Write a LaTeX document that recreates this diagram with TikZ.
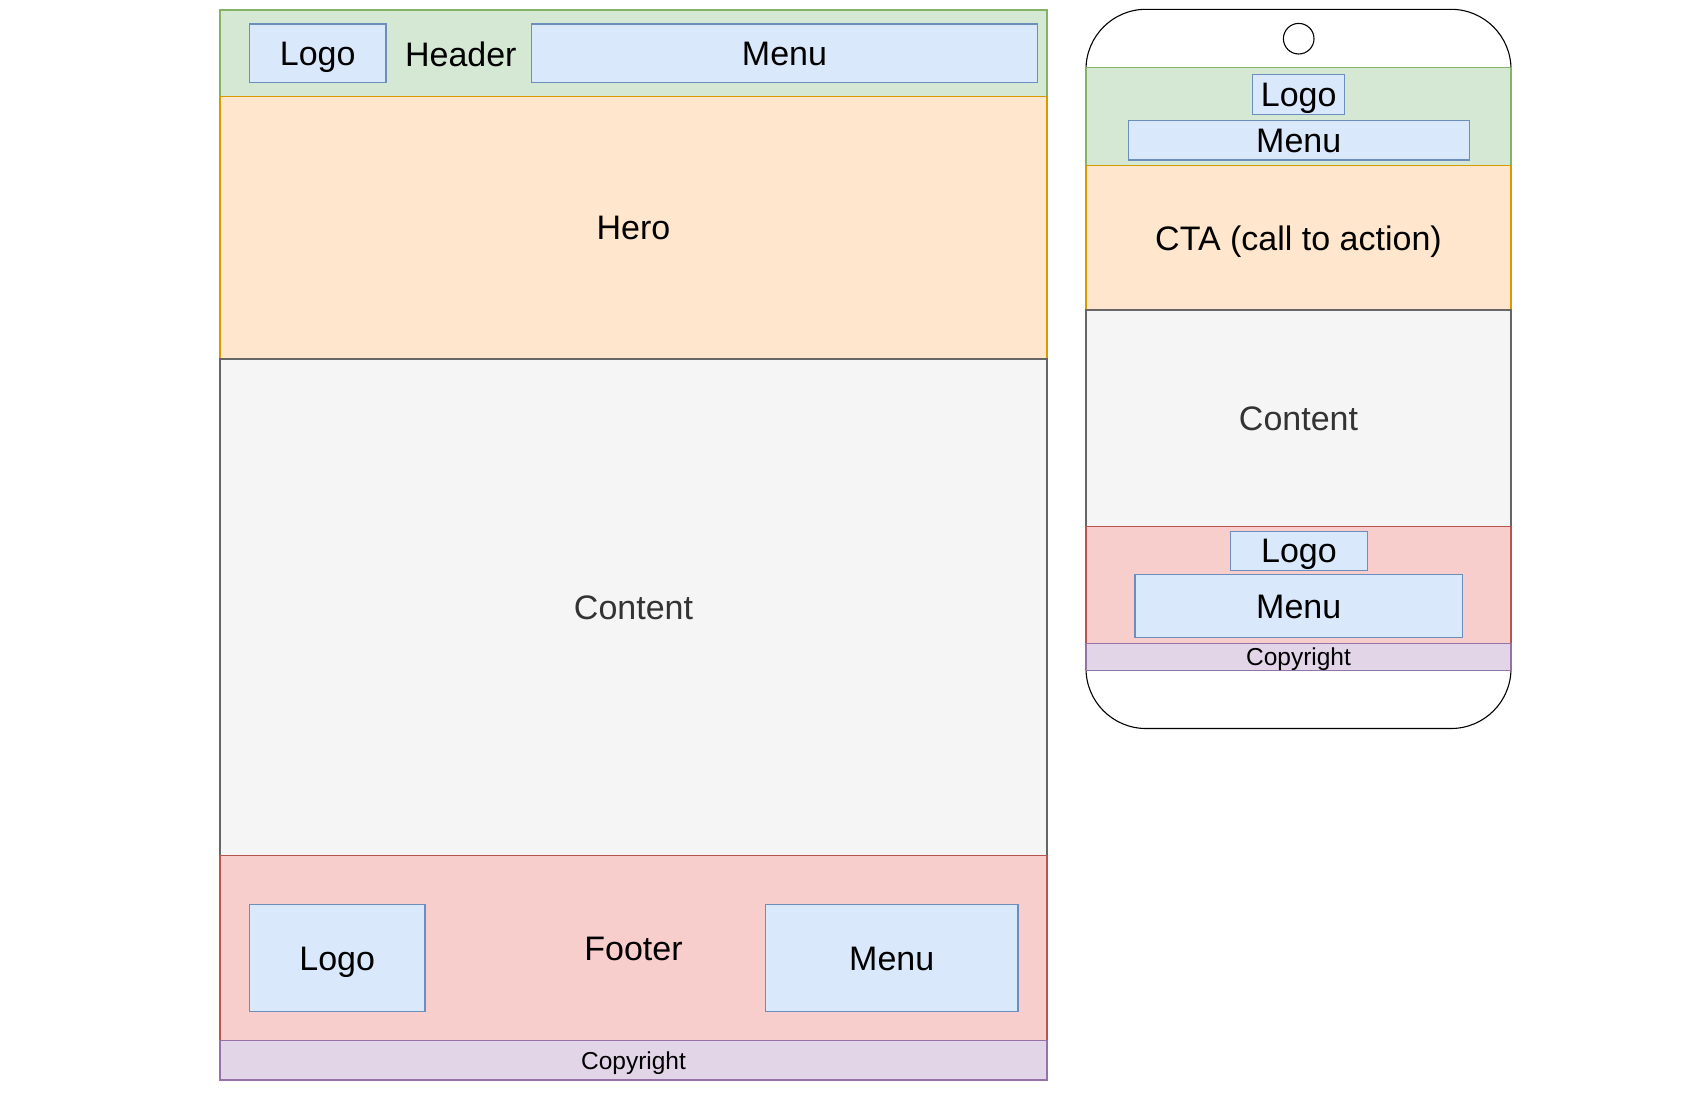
\documentclass[tikz,border=0pt]{standalone}
\usepackage{fontspec}
\setmainfont{Liberation Sans}
\usetikzlibrary{positioning}
\definecolor{wfgreen}{HTML}{D5E8D4}
\definecolor{wfgreenline}{HTML}{82B366}
\definecolor{wforange}{HTML}{FFE6CC}
\definecolor{wforangeline}{HTML}{D79B00}
\definecolor{wfgray}{HTML}{F5F5F5}
\definecolor{wfgrayline}{HTML}{666666}
\definecolor{wfgraytext}{HTML}{333333}
\definecolor{wfred}{HTML}{F8CECC}
\definecolor{wfredline}{HTML}{B85450}
\definecolor{wfpurple}{HTML}{E1D5E7}
\definecolor{wfpurpleline}{HTML}{9673A6}
\definecolor{wfblue}{HTML}{DAE8FC}
\definecolor{wfblueline}{HTML}{6C8EBF}
\newcommand{\bigtxt}{\fontsize{34}{40}\selectfont}
\newcommand{\smalltxt}{\fontsize{24.5}{29}\selectfont}

\begin{document}
\begin{tikzpicture}[x=1pt, y=-1pt,
  blk/.style={rectangle, draw, line width=1.1pt, inner sep=0pt, outer sep=0pt,
    font=\bigtxt, text height=24.4pt, text depth=0pt},
  greenbox/.style={blk, fill=wfgreen, draw=wfgreenline},
  orangebox/.style={blk, fill=wforange, draw=wforangeline},
  graybox/.style={blk, fill=wfgray, draw=wfgrayline, text=wfgraytext},
  redbox/.style={blk, fill=wfred, draw=wfredline},
  purplebox/.style={blk, fill=wfpurple, draw=wfpurpleline,
    font=\smalltxt, text height=17.5pt},
  bluebox/.style={blk, fill=wfblue, draw=wfblueline},
  desk/.style={minimum width=827pt},
  mob/.style={minimum width=425pt}]
  \useasboundingbox (0,0) rectangle (1700,1100);

  % Desktop layout
  \node[greenbox, desk, minimum height=86.5pt, anchor=north west] (dhead) at (220,10) {};
  \node[orangebox, desk, minimum height=262.5pt, below=0pt of dhead] (dhero) {Hero};
  \node[graybox, desk, minimum height=496.4pt, below=0pt of dhero] (dcont) {Content};
  \node[redbox, desk, minimum height=185.4pt, below=0pt of dcont] (dfoot) {Footer};
  \node[purplebox, desk, minimum height=39.2pt, below=0pt of dfoot] (dcopy) {Copyright};
  % header items
  \node[bluebox, minimum width=136.6pt, minimum height=58.5pt] (dhlogo) at (317.7,53.2) {Logo};
  \node[font=\bigtxt, text height=24.4pt, text depth=0pt, inner sep=0pt] (dhtext) at (460.8,54.2) {Header};
  \node[bluebox, minimum width=506.3pt, minimum height=58.5pt] (dhmenu) at (784.5,53.2) {Menu};
  % footer items
  \node[bluebox, minimum width=175.6pt, minimum height=107.4pt] (dflogo) at (337.2,957.9) {Logo};
  \node[bluebox, minimum width=252.6pt, minimum height=107.4pt] (dfmenu) at (891.7,957.9) {Menu};

  % Mobile layout
  \node[draw=black, fill=white, line width=1.1pt, rounded corners=60pt,
    minimum width=425pt, minimum height=719.2pt, inner sep=0pt] (phone) at (1298.5,368.9) {};
  \node[circle, draw=black, line width=1.1pt, minimum size=30.6pt, inner sep=0pt] (cam) at (1298.7,38.7) {};
  \node[greenbox, mob, minimum height=98pt, anchor=north west] (mhead) at (1086,67.7) {};
  \node[orangebox, mob, minimum height=144.3pt, below=0pt of mhead] (mcta) {CTA (call to action)};
  \node[graybox, mob, minimum height=216.3pt, below=0pt of mcta] (mcont) {Content};
  \node[redbox, mob, minimum height=117.4pt, below=0pt of mcont] (mfoot) {};
  \node[purplebox, mob, minimum height=26.6pt, below=0pt of mfoot] (mcopy) {Copyright};
  % header items
  \node[bluebox, minimum width=92pt, minimum height=40pt] (mhlogo) at (1298.7,94.3) {Logo};
  \node[bluebox, minimum width=340.7pt, minimum height=39.3pt] (mhmenu) at (1298.7,140.3) {Menu};
  % footer items
  \node[bluebox, minimum width=137.7pt, minimum height=39.3pt] (mflogo) at (1298.9,550.7) {Logo};
  \node[bluebox, minimum width=327.5pt, minimum height=63.7pt] (mfmenu) at (1298.7,605.9) {Menu};
\end{tikzpicture}
\end{document}
